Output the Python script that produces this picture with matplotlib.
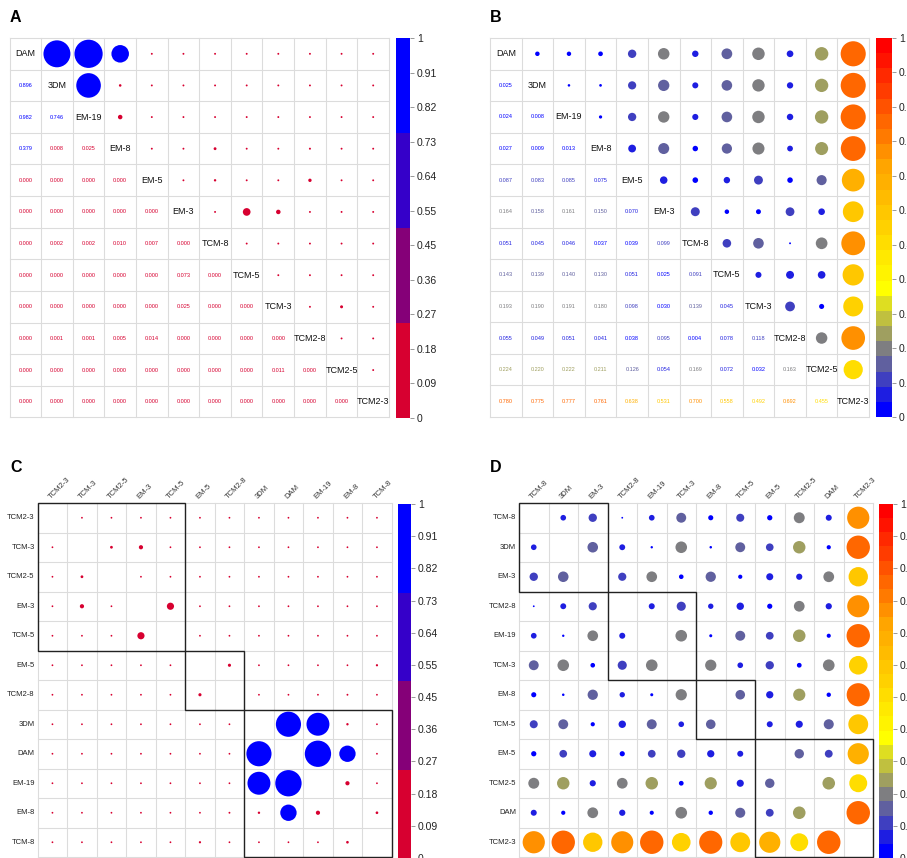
import numpy as np
import matplotlib
matplotlib.use('Agg')
import matplotlib.pyplot as plt
from matplotlib.colors import ListedColormap, BoundaryNorm, LinearSegmentedColormap
from matplotlib.patches import Rectangle
from matplotlib.collections import EllipseCollection
from matplotlib.cm import ScalarMappable
from matplotlib.ticker import NullLocator

plt.rcParams['font.family'] = ['Liberation Sans', 'DejaVu Sans']

# ---------------- data ----------------
labels = ['DAM', '3DM', 'EM-19', 'EM-8', 'EM-5', 'EM-3', 'TCM-8', 'TCM-5',
          'TCM-3', 'TCM2-8', 'TCM2-5', 'TCM2-3']

lower_A = [
    [],
    [0.896],
    [0.982, 0.746],
    [0.379, 0.008, 0.025],
    [0.000, 0.000, 0.000, 0.000],
    [0.000, 0.000, 0.000, 0.000, 0.000],
    [0.000, 0.002, 0.002, 0.010, 0.007, 0.000],
    [0.000, 0.000, 0.000, 0.000, 0.000, 0.073, 0.000],
    [0.000, 0.000, 0.000, 0.000, 0.000, 0.025, 0.000, 0.000],
    [0.000, 0.001, 0.001, 0.005, 0.014, 0.000, 0.000, 0.000, 0.000],
    [0.000, 0.000, 0.000, 0.000, 0.000, 0.000, 0.000, 0.000, 0.011, 0.000],
    [0.000, 0.000, 0.000, 0.000, 0.000, 0.000, 0.000, 0.000, 0.000, 0.000, 0.000],
]

lower_B = [
    [],
    [0.025],
    [0.024, 0.008],
    [0.027, 0.009, 0.013],
    [0.087, 0.083, 0.085, 0.075],
    [0.164, 0.158, 0.161, 0.150, 0.070],
    [0.051, 0.045, 0.046, 0.037, 0.039, 0.099],
    [0.143, 0.139, 0.140, 0.130, 0.051, 0.025, 0.091],
    [0.193, 0.190, 0.191, 0.180, 0.098, 0.030, 0.139, 0.045],
    [0.055, 0.049, 0.051, 0.041, 0.038, 0.095, 0.004, 0.078, 0.118],
    [0.224, 0.220, 0.222, 0.211, 0.126, 0.054, 0.169, 0.072, 0.032, 0.163],
    [0.780, 0.775, 0.777, 0.761, 0.638, 0.531, 0.700, 0.558, 0.492, 0.692, 0.455],
]

order_C = ['TCM2-3', 'TCM-3', 'TCM2-5', 'EM-3', 'TCM-5', 'EM-5', 'TCM2-8',
           '3DM', 'DAM', 'EM-19', 'EM-8', 'TCM-8']
clusters_C = [5, 2, 5]
order_D = ['TCM-8', '3DM', 'EM-3', 'TCM2-8', 'EM-19', 'TCM-3', 'EM-8', 'TCM-5',
           'EM-5', 'TCM2-5', 'DAM', 'TCM2-3']
clusters_D = [3, 3, 2, 4]

cbar_labels = ['0', '0.09', '0.18', '0.27', '0.36', '0.45', '0.55', '0.64',
               '0.73', '0.82', '0.91', '1']

# ---------------- colours ----------------
colors_A = ['#D70030', '#850078', '#3500C9', '#0000FF']
cmapA = ListedColormap(colors_A)
normA_bar = BoundaryNorm([0, 0.25, 0.5, 0.75, 1.0], 4)
normA_mark = BoundaryNorm([0, 0.1, 0.2, 0.3, 1.0], 4)

base_B = LinearSegmentedColormap.from_list(
    'byor', ['#0000FF', '#FFFF00', '#FFA500', '#FF0000'])
cmapB = ListedColormap(base_B(np.linspace(0, 1, 25)))
normB = BoundaryNorm(np.linspace(0, 1, 26), 25)


def full_matrix(lower):
    n = len(lower)
    M = np.zeros((n, n))
    for i, row in enumerate(lower):
        for j, v in enumerate(row):
            M[i, j] = v
            M[j, i] = v
    M[np.diag_indices(n)] = 1.0
    return M


MA = full_matrix(lower_A)
MB = full_matrix(lower_B)

W, H = 907, 858
fig = plt.figure(figsize=(W / 100, H / 100), dpi=100)


def px_axes(left, top, w, h):
    return fig.add_axes([left / W, 1 - (top + h) / H, w / W, h / H])


def diam(v):
    return np.maximum(0.9 * np.sqrt(np.abs(v)), 0.06)


def grid(ax, n):
    ax.set_xlim(0, n)
    ax.set_ylim(n, 0)
    ax.axis('off')
    for k in range(n + 1):
        ax.plot([k, k], [0, n], color='#DCDCDC', lw=0.8, zorder=1, clip_on=False)
        ax.plot([0, n], [k, k], color='#DCDCDC', lw=0.8, zorder=1, clip_on=False)


def add_circles(ax, xs, ys, vals, cmap, norm):
    d = diam(np.array(vals))
    ec = EllipseCollection(d, d, np.zeros_like(d), units='xy',
                           offsets=np.column_stack([xs, ys]),
                           offset_transform=ax.transData,
                           facecolors=cmap(norm(np.array(vals))),
                           edgecolors='none', zorder=3)
    ax.add_collection(ec)


def mixed_panel(ax, M, cmap, norm):
    n = len(labels)
    grid(ax, n)
    xs, ys, vs = [], [], []
    for i in range(n):
        for j in range(n):
            if j > i:
                xs.append(j + 0.5); ys.append(i + 0.5); vs.append(M[i, j])
            elif j < i:
                v = M[i, j]
                ax.text(j + 0.5, i + 0.5, f'{v:.3f}', ha='center', va='center',
                        fontsize=4, color=cmap(norm(v)), zorder=4)
        ax.text(i + 0.5, i + 0.5, labels[i], ha='center', va='center',
                fontsize=6.5, color='#111111', zorder=4)
    add_circles(ax, xs, ys, vs, cmap, norm)


def ordered_panel(ax, M, order, clusters, cmap, norm):
    n = len(order)
    grid(ax, n)
    idx = [labels.index(o) for o in order]
    xs, ys, vs = [], [], []
    for r in range(n):
        for c in range(n):
            if r != c:
                xs.append(c + 0.5); ys.append(r + 0.5); vs.append(M[idx[r], idx[c]])
    add_circles(ax, xs, ys, vs, cmap, norm)
    for k, name in enumerate(order):
        ax.text(-0.1, k + 0.5, name, ha='right', va='center', fontsize=5.5,
                color='#222222')
        ax.text(k + 0.45, -0.12, name, ha='left', va='baseline', rotation=45,
                rotation_mode='anchor', fontsize=5.5, color='#333333')
    s = 0
    for k in clusters:
        ax.add_patch(Rectangle((s, s), k, k, fill=False, ec='#222222', lw=1.0,
                               zorder=5, clip_on=False))
        s += k


def colorbar(left, top, w, h, cmap, norm):
    cax = px_axes(left, top, w, h)
    cb = fig.colorbar(ScalarMappable(norm=norm, cmap=cmap), cax=cax)
    cb.outline.set_visible(False)
    cb.set_ticks(np.linspace(0, 1, len(cbar_labels)))
    cb.set_ticklabels(cbar_labels)
    cb.minorticks_off()
    cax.yaxis.set_minor_locator(NullLocator())
    cax.tick_params(length=3, width=0.6, color='#888888', labelsize=7.5,
                    pad=2, labelcolor='#222222')
    return cb


axA = px_axes(9.5, 38, 379.5, 379.5)
mixed_panel(axA, MA, cmapA, normA_mark)
colorbar(396, 38, 14, 380, cmapA, normA_bar)

axB = px_axes(490, 38, 379, 379)
mixed_panel(axB, MB, cmapB, normB)
colorbar(876, 38, 16, 379, cmapB, normB)

axC = px_axes(37.7, 503, 354, 354)
ordered_panel(axC, MA, order_C, clusters_C, cmapA, normA_mark)
colorbar(398, 504, 13, 354, cmapA, normA_bar)

axD = px_axes(519, 503, 354, 354)
ordered_panel(axD, MB, order_D, clusters_D, cmapB, normB)
colorbar(879, 504, 14, 354, cmapB, normB)

for letter, x, y in [('A', 10, 17), ('B', 490, 17), ('C', 10, 467), ('D', 490, 467)]:
    fig.text(x / W, 1 - y / H, letter, fontsize=11.5, fontweight='bold',
             va='center', ha='left')

fig.savefig('out.png', dpi=100)
